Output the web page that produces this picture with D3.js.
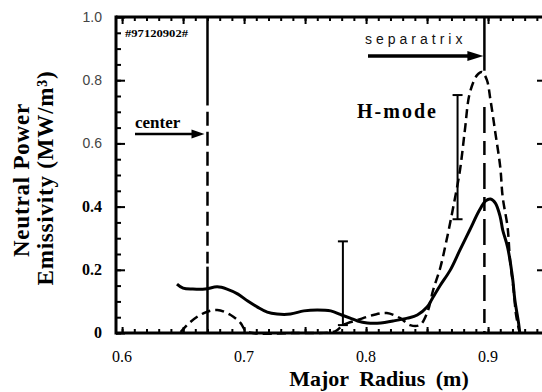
<!DOCTYPE html>
<html><head><meta charset="utf-8">
<script src="https://cdn.jsdelivr.net/npm/d3@7"></script>
<style>html,body{margin:0;padding:0;background:#fff;}svg{display:block;}</style>
</head><body>
<svg id="c" width="542" height="392"></svg>
<script>
// ---- data ----
const solidR = [0.645,0.650,0.658,0.668,0.678,0.686,0.695,0.703,0.711,0.719,0.727,0.738,0.749,0.760,0.771,0.780,0.787,0.793,0.801,0.812,0.822,0.834,0.842,0.850,0.855,0.861,0.869,0.877,0.885,0.893,0.898,0.902,0.906,0.910,0.912,0.916,0.920,0.922,0.925,0.926];
const solidE = [0.155,0.142,0.139,0.139,0.146,0.139,0.123,0.101,0.082,0.066,0.060,0.060,0.070,0.073,0.070,0.057,0.047,0.038,0.032,0.032,0.038,0.047,0.057,0.082,0.114,0.152,0.199,0.263,0.326,0.389,0.418,0.424,0.411,0.367,0.326,0.272,0.177,0.104,0.032,0.0];
const dashR = [0.648,0.656,0.667,0.678,0.689,0.697,0.701,0.707,0.740,0.775,0.781,0.793,0.806,0.817,0.828,0.836,0.844,0.850,0.855,0.861,0.866,0.871,0.877,0.881,0.885,0.891,0.895,0.899,0.902,0.906,0.910,0.912,0.916,0.918,0.921,0.923,0.926];
const dashE = [0.003,0.035,0.063,0.073,0.057,0.032,0.009,0.0,0.0,0.006,0.025,0.041,0.057,0.063,0.047,0.025,0.025,0.063,0.136,0.209,0.294,0.389,0.516,0.642,0.759,0.816,0.826,0.801,0.737,0.633,0.525,0.430,0.335,0.231,0.136,0.057,0.0];
const errR = [0.781, 0.875];
const errLo = [0.025, 0.36];
const errHi = [0.29, 0.753];
const centerR = 0.670;
const separatrixR = 0.897;
const xTickVals = [0.6, 0.7, 0.8, 0.9];
const xTickLabels = ["0.6", "0.7", "0.8", "0.9"];
const yTickVals = [1.0, 0.8, 0.6, 0.4, 0.2, 0];
const yTickLabels = ["1.0", "0.8", "0.6", "0.4", "0.2", "0"];

// ---- drawing ----
const svg = d3.select("#c");
const L = 116, R = 546, T = 17, B = 333;
const x = d3.scaleLinear().domain([0.595, 0.9475]).range([L, R]);
const y = d3.scaleLinear().domain([0, 1]).range([B, T]);
const serif = "'Liberation Serif','Times New Roman',serif";
const sans = "'Liberation Sans',Arial,sans-serif";

const xMinor = d3.range(60, 95).map(d => d / 100);
const x5 = xMinor.filter(d => Math.round(d * 100) % 5 === 0);
const yMinor = d3.range(0, 21).map(d => d / 20);
const yMajor = yMinor.filter(d => Math.round(d * 20) % 4 === 0);

function tickAxis(axis, tr, vals, size) {
  const g = svg.append("g").attr("transform", tr)
    .call(axis.tickValues(vals).tickSize(size).tickFormat(""));
  g.select(".domain").remove();
  g.selectAll("line").attr("stroke", "#000").attr("stroke-width", 2);
  return g;
}
tickAxis(d3.axisTop(x), `translate(0,${B})`, xMinor, 4);
tickAxis(d3.axisTop(x), `translate(0,${B})`, x5, 6);
tickAxis(d3.axisBottom(x), `translate(0,${T})`, xMinor, 4);
tickAxis(d3.axisBottom(x), `translate(0,${T})`, x5, 7);
tickAxis(d3.axisRight(y), `translate(${L},0)`, yMinor, 5);
tickAxis(d3.axisRight(y), `translate(${L},0)`, yMajor, 9);
tickAxis(d3.axisLeft(y), `translate(${R},0)`, yMajor.filter(d => d > 0 && d < 1), 9);

// frame
svg.append("line").attr("x1", L).attr("x2", R).attr("y1", T).attr("y2", T).attr("stroke", "#000").attr("stroke-width", 3);
svg.append("line").attr("x1", L).attr("x2", R).attr("y1", B).attr("y2", B).attr("stroke", "#000").attr("stroke-width", 3);
svg.append("line").attr("x1", L).attr("x2", L).attr("y1", T - 1.5).attr("y2", B + 1.5).attr("stroke", "#000").attr("stroke-width", 3);

// y tick labels
yTickVals.forEach((v, i) => {
  const bold = v <= 0.4;
  svg.append("text").attr("x", 102).attr("y", y(v) + 5)
    .attr("text-anchor", "end")
    .attr("font-family", bold ? serif : sans)
    .attr("font-weight", bold ? "bold" : "normal")
    .attr("font-size", bold ? 16 : 14)
    .attr("fill", bold ? "#000" : "#444")
    .text(yTickLabels[i]);
});
// x tick labels
xTickVals.forEach((v, i) => {
  svg.append("text").attr("x", x(v)).attr("y", 362)
    .attr("text-anchor", "middle").attr("font-family", serif)
    .attr("font-size", 16).attr("fill", "#000").text(xTickLabels[i]);
});

// axis titles
svg.append("text").attr("x", 379).attr("y", 386).attr("text-anchor", "middle")
  .attr("font-family", serif).attr("font-weight", "bold").attr("font-size", 22)
  .attr("word-spacing", 5).text("Major Radius (m)");
svg.append("text").attr("transform", "translate(29,180) rotate(-90)")
  .attr("text-anchor", "middle").attr("font-family", serif).attr("font-weight", "bold")
  .attr("font-size", 23).attr("letter-spacing", 0.8).text("Neutral Power");
svg.append("text").attr("transform", "translate(53,178) rotate(-90)")
  .attr("text-anchor", "middle").attr("font-family", serif).attr("font-weight", "bold")
  .attr("font-size", 23).attr("letter-spacing", 0.8).text("Emissivity (MW/m³)");

// vertical reference lines
function vseg(r, v0, v1, dash, w) {
  svg.append("line").attr("x1", x(r)).attr("x2", x(r)).attr("y1", y(v0)).attr("y2", y(v1))
    .attr("stroke", "#000").attr("stroke-width", w).attr("stroke-dasharray", dash);
}
vseg(centerR, 1.0, 0.72, null, 2.5);
vseg(centerR, 0.70, 0.22, "14,6", 2.5);
vseg(centerR, 0.21, 0.0, null, 2.5);
vseg(separatrixR, 1.0, 0.83, null, 2.5);
vseg(separatrixR, 0.715, 0.0, "26,8,14,8", 2.5);

// curves
const line = d3.line().curve(d3.curveCatmullRom.alpha(0.5)).x(d => x(d[0])).y(d => y(d[1]));
svg.append("path").datum(dashR.map((r, i) => [r, dashE[i]])).attr("d", line)
  .attr("fill", "none").attr("stroke", "#000").attr("stroke-width", 2.5).attr("stroke-dasharray", "9,5");
svg.append("path").datum(solidR.map((r, i) => [r, solidE[i]])).attr("d", line)
  .attr("fill", "none").attr("stroke", "#000").attr("stroke-width", 3);

// error bars
errR.forEach((r, i) => {
  const cx = x(r);
  svg.append("line").attr("x1", cx).attr("x2", cx).attr("y1", y(errLo[i])).attr("y2", y(errHi[i]))
    .attr("stroke", "#000").attr("stroke-width", 2);
  [errLo[i], errHi[i]].forEach(v => {
    svg.append("line").attr("x1", cx - 5).attr("x2", cx + 5).attr("y1", y(v)).attr("y2", y(v))
      .attr("stroke", "#000").attr("stroke-width", 2);
  });
});

// arrows + annotations
function arrow(x0, x1, yy, w, hl, hw) {
  svg.append("line").attr("x1", x0).attr("x2", x1 - hl + 1).attr("y1", yy).attr("y2", yy)
    .attr("stroke", "#000").attr("stroke-width", w);
  svg.append("path").attr("d", `M${x1},${yy} L${x1 - hl},${yy - hw} L${x1 - hl},${yy + hw} Z`).attr("fill", "#000");
}
arrow(135, x(centerR) - 3, 134, 2.5, 13, 4.5);
arrow(368, x(separatrixR) - 1, 56, 3.5, 16, 5);

svg.append("text").attr("x", 135).attr("y", 128).attr("font-family", serif).attr("font-weight", "bold")
  .attr("font-size", 17).text("center");
svg.append("text").attr("x", 365).attr("y", 44).attr("font-family", sans)
  .attr("font-size", 14).attr("letter-spacing", 4).attr("fill", "#111").text("separatrix");
svg.append("text").attr("x", 357).attr("y", 118).attr("font-family", serif).attr("font-weight", "bold")
  .attr("font-size", 20).attr("letter-spacing", 2).text("H-mode");
svg.append("text").attr("x", 125).attr("y", 37).attr("font-family", serif).attr("font-weight", "bold")
  .attr("font-size", 10).attr("textLength", 63).attr("lengthAdjust", "spacingAndGlyphs").text("#97120902#");
</script>
</body></html>
